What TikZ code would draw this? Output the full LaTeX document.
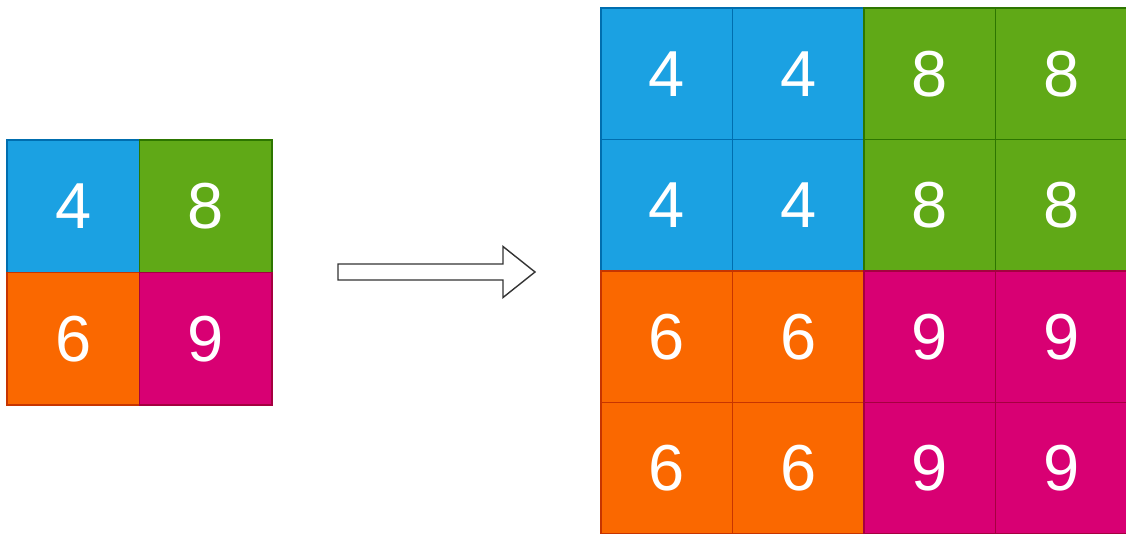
\documentclass[tikz,border=0pt]{standalone}
\usepackage{fontspec}
\setmainfont{Liberation Sans}
\usetikzlibrary{positioning}

\definecolor{cblue}{HTML}{1BA1E2}
\definecolor{cblueline}{HTML}{006EAF}
\definecolor{cgreen}{HTML}{60A917}
\definecolor{cgreenline}{HTML}{2D7600}
\definecolor{corange}{HTML}{FA6800}
\definecolor{corangeline}{HTML}{C73500}
\definecolor{cpink}{HTML}{D80073}
\definecolor{cpinkline}{HTML}{A50040}

\begin{document}
\begin{tikzpicture}[
    x=1pt, y=1pt,
    % one square of a grid
    cell/.style={draw, line width=1.2pt, text=white, inner sep=0pt,
                 font=\fontsize{65}{65}\selectfont},
    small cell/.style={cell, minimum size=132.5pt},
    big cell/.style={cell, minimum size=131.5pt},
    % colours per value
    q4/.style={fill=cblue, draw=cblueline},
    q8/.style={fill=cgreen, draw=cgreenline},
    q6/.style={fill=corange, draw=corangeline},
    q9/.style={fill=cpink, draw=cpinkline},
    % outlined block arrow
    blockarrow/.style={draw=black!80, line width=1.4pt, fill=white, line join=miter}
]
\useasboundingbox (0,0) rectangle (1126,533);
\clip (0,0) rectangle (1126,533);

% input 2x2 grid
\foreach \v/\r/\c in {4/0/0, 8/0/1, 6/1/0, 9/1/1}
    \node[small cell, q\v] (s-\r-\c) at (73.25+132.5*\c, 326.75-132.5*\r) {\v};

% upsampled 4x4 grid
\foreach \v/\qr/\qc in {4/0/0, 8/0/1, 6/1/0, 9/1/1}
    \foreach \i in {0,1}
        \foreach \j in {0,1} {
            \pgfmathtruncatemacro\r{2*\qr+\i}
            \pgfmathtruncatemacro\c{2*\qc+\j}
            \node[big cell, q\v] (b-\r-\c) at (666.75+131.5*\c, 459.25-131.5*\r) {\v};
        }

% arrow between the grids
\draw[blockarrow] (338,253) -- (503,253) -- (503,235.5) -- (535,261)
    -- (503,286.5) -- (503,269) -- (338,269) -- cycle;

\end{tikzpicture}
\end{document}
